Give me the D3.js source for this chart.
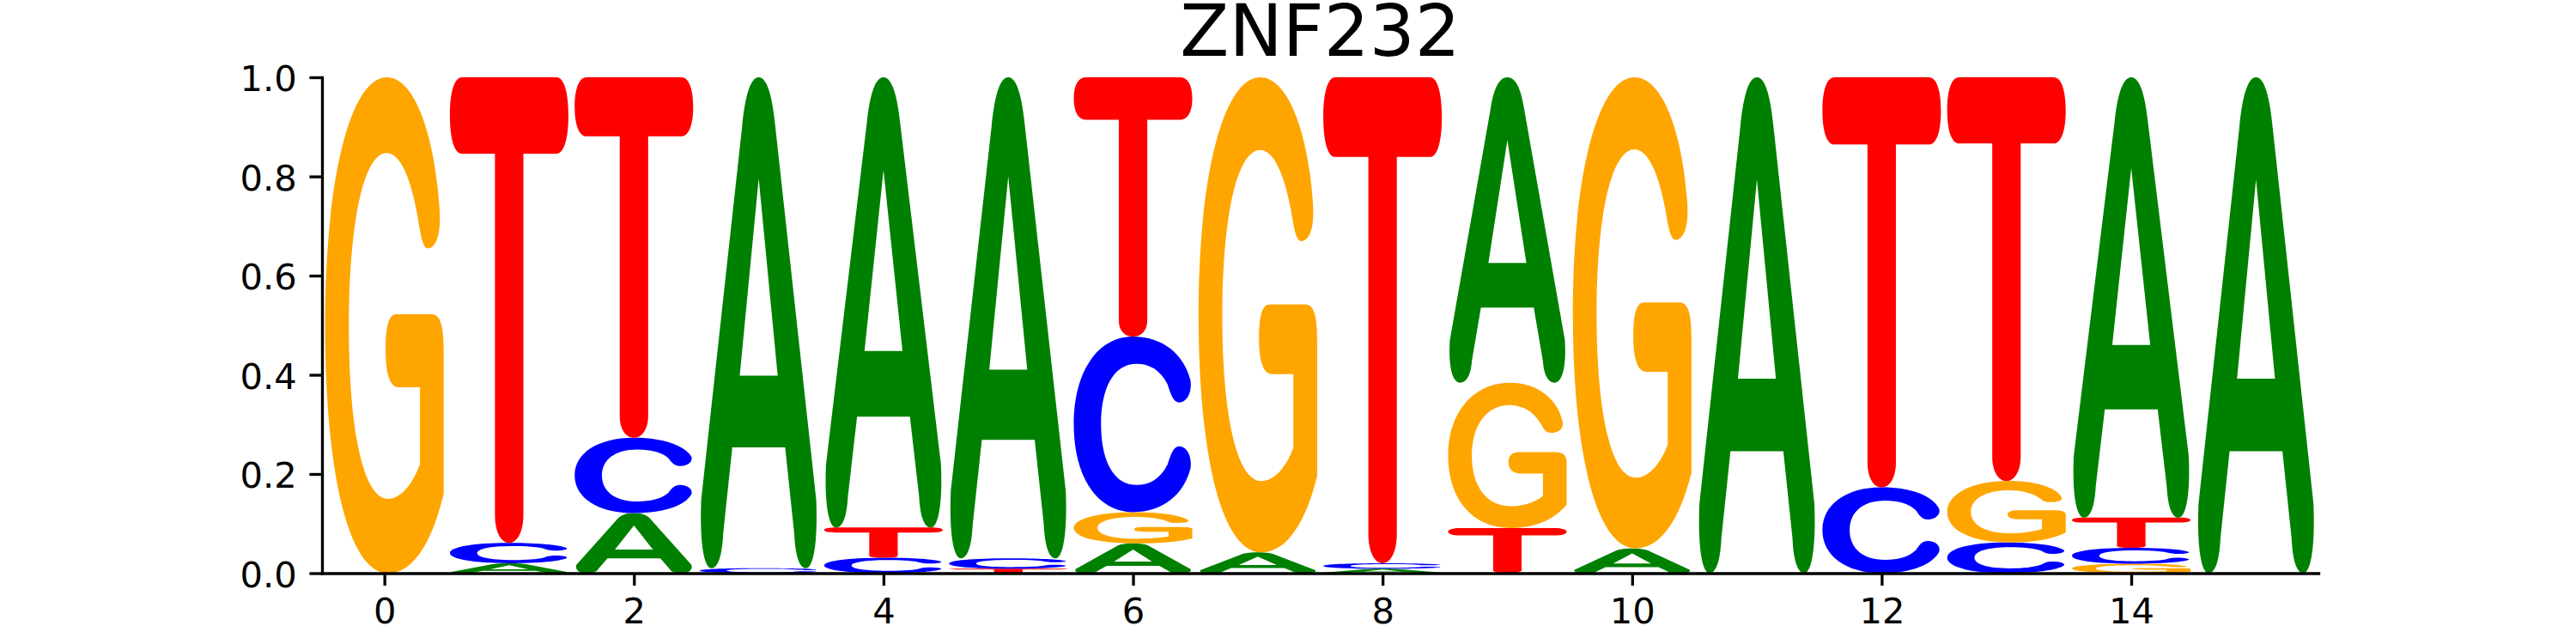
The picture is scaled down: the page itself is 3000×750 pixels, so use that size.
<!DOCTYPE html>
<html>
<head>
<meta charset="utf-8">
<script src="https://cdn.jsdelivr.net/npm/d3@7"></script>
<style>
  body { margin: 0; background: #fff; }
  svg { display: block; }
  text { font-family: "DejaVu Sans", sans-serif; }
</style>
</head>
<body>
<svg id="chart" width="3000" height="750"></svg>
<script>
const WIDTH = 3000;
const HEIGHT = 750;

// motif data, one value per position and base
const positions = [0, 1, 2, 3, 4, 5, 6, 7, 8, 9, 10, 11, 12, 13, 14, 15];
const probA = [0.0, 0.02, 0.121, 0.99, 0.908, 0.97, 0.06, 0.042, 0.009, 0.616, 0.05, 1.0, 0.0, 0.0, 0.888, 1.0];
const probC = [0.0, 0.041, 0.152, 0.01, 0.031, 0.021, 0.354, 0.0, 0.011, 0.0, 0.0, 0.0, 0.173, 0.062, 0.032, 0.0];
const probG = [1.0, 0.0, 0.0, 0.0, 0.0, 0.0, 0.063, 0.958, 0.0, 0.293, 0.95, 0.0, 0.0, 0.124, 0.019, 0.0];
const probT = [0.0, 0.939, 0.727, 0.0, 0.061, 0.009, 0.523, 0.0, 0.98, 0.091, 0.0, 0.0, 0.827, 0.814, 0.061, 0.0];

const yTicks = [0, 0.2, 0.4, 0.6, 0.8, 1.0];
const xTicks = [0, 2, 4, 6, 8, 10, 12, 14];
const TITLE = 'ZNF232';

const COLORS = { A: 'green', C: 'blue', G: 'orange', T: 'red' };
const LETTER_WIDTH = 0.95;

// glyph outlines in a unit box (x right, y down), stretched to each cell
const GLYPHS = {
  A: 'M0.5,0 C0.58,0 0.62,0.05 0.64,0.1 L0.985,0.86 C1,0.95 0.96,1 0.9,1 ' +
     'C0.85,1 0.81,0.98 0.8,0.93 L0.723,0.754 L0.277,0.754 L0.2,0.93 ' +
     'C0.19,0.98 0.15,1 0.1,1 C0.04,1 0,0.95 0.015,0.86 L0.36,0.1 ' +
     'C0.38,0.05 0.42,0 0.5,0 Z M0.5,0.206 L0.34,0.608 L0.66,0.608 Z',
  C: 'M0.5,0 C0.75,0 0.93,0.1 0.985,0.25 C1,0.32 0.95,0.375 0.89,0.375 ' +
     'C0.84,0.375 0.82,0.33 0.79,0.27 C0.73,0.19 0.64,0.155 0.53,0.155 ' +
     'C0.33,0.155 0.23,0.3 0.23,0.5 C0.23,0.7 0.33,0.845 0.53,0.845 ' +
     'C0.64,0.845 0.73,0.81 0.79,0.73 C0.82,0.67 0.84,0.625 0.89,0.625 ' +
     'C0.95,0.625 1,0.68 0.985,0.75 C0.93,0.9 0.75,1 0.5,1 ' +
     'C0.2,1 0,0.8 0,0.5 C0,0.2 0.2,0 0.5,0 Z',
  G: 'M0.52,0 C0.76,0 0.92,0.12 0.96,0.25 C0.99,0.32 0.93,0.345 0.865,0.345 ' +
     'C0.82,0.345 0.8,0.31 0.78,0.28 C0.72,0.2 0.63,0.153 0.52,0.153 ' +
     'C0.32,0.153 0.2,0.3 0.2,0.5 C0.2,0.71 0.32,0.85 0.53,0.85 ' +
     'C0.64,0.85 0.74,0.82 0.8,0.78 L0.8,0.625 L0.62,0.625 ' +
     'C0.55,0.625 0.51,0.6 0.51,0.55 C0.51,0.5 0.54,0.478 0.6,0.478 ' +
     'L0.9,0.478 C0.97,0.478 1,0.5 1,0.55 L1,0.84 ' +
     'C0.9,0.94 0.74,1 0.53,1 C0.2,1 0,0.8 0,0.5 C0,0.2 0.22,0 0.52,0 Z',
  T: 'M0.1,0 L0.9,0 C0.96,0 1,0.03 1,0.082 C1,0.134 0.96,0.164 0.9,0.164 ' +
     'L0.62,0.164 L0.62,0.94 C0.62,0.975 0.57,1 0.5,1 C0.43,1 0.38,0.975 0.38,0.94 ' +
     'L0.38,0.164 L0.1,0.164 C0.04,0.164 0,0.134 0,0.082 C0,0.03 0.04,0 0.1,0 Z',
};

const margin = { left: 375, right: 300, top: 90, bottom: 82.5 };
const LW = 3.33;
const FONT = 41.67;

const x = d3.scaleLinear()
  .domain([-0.5, 15.5])
  .range([margin.left, WIDTH - margin.right]);
const y = d3.scaleLinear()
  .domain([0, 1])
  .range([HEIGHT - margin.bottom, margin.top]);

const series = { A: probA, C: probC, G: probG, T: probT };

// stack letters per position, smallest at the bottom
const glyphs = positions.flatMap((p, i) => {
  let base = 0;
  return Object.keys(series)
    .map((b) => ({ b, v: series[b][i] }))
    .filter((d) => d.v > 0)
    .sort((a, c) => a.v - c.v)
    .map((d) => {
      const y0 = base;
      base += d.v;
      return { pos: p, letter: d.b, y0, y1: base };
    });
});

const svg = d3.select('#chart');

svg.append('g')
  .selectAll('path')
  .data(glyphs)
  .enter()
  .append('path')
  .attr('d', (d) => GLYPHS[d.letter])
  .attr('fill', (d) => COLORS[d.letter])
  .attr('fill-rule', 'evenodd')
  .attr('transform', (d) => {
    const x0 = x(d.pos - LETTER_WIDTH / 2);
    const w = x(d.pos + LETTER_WIDTH / 2) - x0;
    const top = y(d.y1);
    const h = y(d.y0) - top;
    return `translate(${x0},${top}) scale(${w},${h})`;
  });

const yAxis = svg.append('g')
  .attr('transform', `translate(${margin.left},0)`)
  .call(d3.axisLeft(y)
    .tickValues(yTicks)
    .tickFormat(d3.format('.1f'))
    .tickSize(14.6)
    .tickSizeOuter(0)
    .tickPadding(14.6));
yAxis.selectAll('text').attr('dy', '0.38em');

const xAxis = svg.append('g')
  .attr('transform', `translate(0,${HEIGHT - margin.bottom})`)
  .call(d3.axisBottom(x)
    .tickValues(xTicks)
    .tickFormat(d3.format('d'))
    .tickSize(14.6)
    .tickSizeOuter(0)
    .tickPadding(14.6));

[xAxis, yAxis].forEach((ax) => {
  ax.attr('font-size', null).attr('font-family', null);
  ax.selectAll('text').style('font-size', `${FONT}px`).attr('fill', '#000');
  ax.selectAll('line').attr('stroke', '#000').attr('stroke-width', LW);
  ax.select('.domain').attr('stroke', '#000').attr('stroke-width', LW)
    .attr('stroke-linecap', 'square');
});

svg.append('text')
  .attr('x', (x.range()[0] + x.range()[1]) / 2)
  .attr('y', margin.top - 25)
  .attr('text-anchor', 'middle')
  .style('font-size', '83.3px')
  .attr('fill', '#000')
  .text(TITLE);
</script>
</body>
</html>
